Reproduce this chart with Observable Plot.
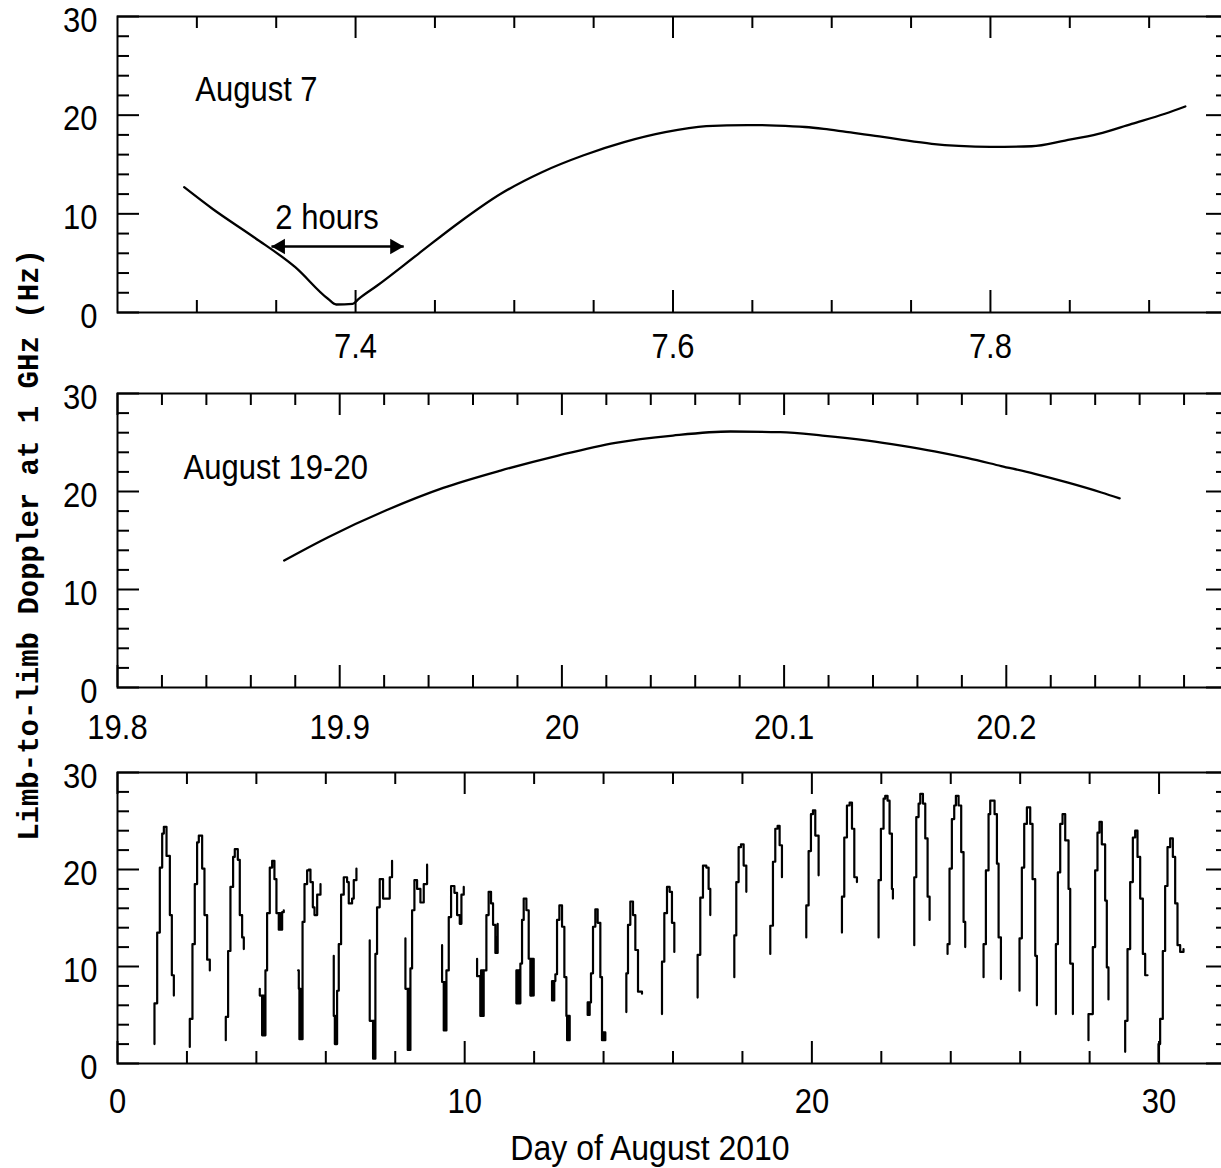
<!DOCTYPE html>
<html>
<head>
<meta charset="utf-8">
<script src="https://cdn.jsdelivr.net/npm/d3@7"></script>
<script src="https://cdn.jsdelivr.net/npm/@observablehq/plot@0.6"></script>
<style>
html,body{margin:0;padding:0;background:#fff;}
#wrap{position:relative;width:1221px;height:1168px;overflow:hidden;background:#fff;}
.panel{position:absolute;left:0;width:1240px;}
#ylab{position:absolute;left:30px;top:545px;transform:translate(-50%,-50%) rotate(-90deg);font-family:"Liberation Mono",monospace;font-weight:bold;font-size:29px;white-space:nowrap;color:#000;}
#xlab{position:absolute;left:650px;top:1148px;transform:translate(-50%,-50%) scale(1,1.12);font-family:"Liberation Sans",Arial,sans-serif;font-size:32px;white-space:nowrap;color:#000;}
</style>
</head>
<body>
<div id="wrap">
  <div id="p1" class="panel" style="top:0px"></div>
  <div id="p2" class="panel" style="top:377px"></div>
  <div id="p3" class="panel" style="top:756px"></div>
  <div id="ylab">Limb-to-limb Doppler at 1 GHz (Hz)</div>
  <div id="xlab">Day of August 2010</div>
</div>
<script>
// ---------- Panel 1: August 7 ----------
const aug7Day = [7.292,7.310,7.336,7.362,7.3826,7.3878,7.3982,7.402,7.4137,7.4396,7.4655,7.4915,7.5174,7.5433,7.5692,7.5951,7.621,7.6469,7.665,7.6832,7.695,7.709,7.73,7.7425,7.763,7.78,7.80,7.826,7.847,7.868,7.889,7.910,7.9228];
const aug7Hz  = [12.70,10.49,7.63,4.59,1.39,0.81,0.88,1.39,2.74,5.95,9.15,12.03,14.22,15.91,17.26,18.27,18.88,19.0,18.95,18.8,18.6,18.3,17.85,17.55,17.1,16.88,16.78,16.85,17.43,18.1,19.12,20.14,20.88];
const p1Domain = [7.25, 7.95];
const p1MajorTicks = [7.4, 7.6, 7.8];
const p1MajorLabels = ["7.4", "7.6", "7.8"];
const p1MinorTicks = [7.3, 7.35, 7.45, 7.5, 7.55, 7.65, 7.7, 7.75, 7.85, 7.9];
const p1Title = "August 7";
const arrowLabel = "2 hours";
const arrowStartDay = 7.347;
const arrowHours = 2;
const arrowHz = 6.69;

// ---------- Panel 2: August 19-20 ----------
const aug19Day = [19.875,19.8948,19.9207,19.9466,19.9724,19.9983,20.0241,20.05,20.0759,20.0983,20.1172,20.1377,20.1527,20.1677,20.1827,20.1977,20.2128,20.2278,20.2428,20.251];
const aug19Hz  = [12.96,15.34,18.06,20.37,22.14,23.67,24.97,25.71,26.12,26.05,25.71,25.2,24.69,24.1,23.4,22.6,21.8,20.9,19.9,19.3];
const p2Domain = [19.8, 20.3];
const p2MajorTicks = [19.8, 19.9, 20.0, 20.1, 20.2];
const p2MajorLabels = ["19.8", "19.9", "20", "20.1", "20.2"];
const p2MinorTicks = [19.82,19.84,19.86,19.88,19.92,19.94,19.96,19.98,20.02,20.04,20.06,20.08,20.12,20.14,20.16,20.18,20.22,20.24,20.26,20.28];
const p2Title = "August 19-20";

// ---------- Panel 3: whole month (daily passes, [day, Hz] step points) ----------
const passes = [
  [[1.065,2.0],[1.065,6.2],[1.143,13.5],[1.219,20.2],[1.287,23.7],[1.335,24.4],[1.412,21.4],[1.508,15.3],[1.565,9.1],[1.623,7.0]],
  [[2.082,1.7],[2.082,4.6],[2.159,12.3],[2.226,18.5],[2.293,22.8],[2.342,23.5],[2.438,20.1],[2.505,15.3],[2.582,10.7],[2.659,9.6]],
  [[3.119,2.4],[3.119,4.8],[3.186,11.6],[3.253,18.2],[3.33,21.3],[3.378,22.1],[3.465,21.0],[3.522,15.3],[3.59,13.0],[3.638,11.8]],
  [[4.098,7.7],[4.098,7.0],[4.165,2.9],[4.185,7.0],[4.205,2.9],[4.225,7.0],[4.242,2.9],[4.261,9.6],[4.309,15.5],[4.386,20.2],[4.454,20.9],[4.52,19.0],[4.578,15.5],[4.645,13.8],[4.67,15.5],[4.69,13.8],[4.742,15.6],[4.789,15.8]],
  [[5.203,9.6],[5.222,7.7],[5.24,2.5],[5.26,7.7],[5.28,2.5],[5.3,7.7],[5.318,2.5],[5.33,14.6],[5.386,18.5],[5.462,19.9],[5.51,20.0],[5.558,18.7],[5.626,16.1],[5.674,15.3],[5.751,17.4],[5.847,18.5]],
  [[6.229,11.1],[6.229,4.9],[6.26,2.0],[6.28,4.9],[6.3,2.0],[6.325,7.5],[6.373,12.3],[6.44,17.4],[6.517,19.2],[6.613,18.7],[6.661,16.5],[6.757,17.0],[6.805,18.9],[6.882,20.1]],
  [[7.265,12.7],[7.265,4.4],[7.361,0.5],[7.38,4.4],[7.4,0.5],[7.428,11.3],[7.476,16.1],[7.553,19.0],[7.649,17.0],[7.841,19.2],[7.908,20.9]],
  [[8.293,12.9],[8.293,7.7],[8.36,1.4],[8.38,7.7],[8.4,1.4],[8.437,9.8],[8.485,15.8],[8.552,18.9],[8.629,18.0],[8.725,16.6],[8.821,18.5],[8.917,20.5]],
  [[9.349,12.2],[9.349,8.4],[9.397,3.4],[9.415,8.4],[9.435,3.4],[9.474,9.6],[9.541,15.1],[9.608,18.3],[9.704,17.6],[9.781,15.3],[9.858,14.4],[9.906,17.4],[9.973,18.2]],
  [[10.357,10.8],[10.357,9.0],[10.45,4.9],[10.47,9.6],[10.49,4.9],[10.51,9.6],[10.53,4.9],[10.547,9.6],[10.625,15.3],[10.69,17.7],[10.759,16.5],[10.817,14.3],[10.884,11.4],[10.91,13.0],[10.93,11.4],[10.95,14.4]],
  [[11.489,9.6],[11.489,6.2],[11.51,9.6],[11.53,6.2],[11.55,9.6],[11.57,6.2],[11.604,10.3],[11.652,14.8],[11.70,17.0],[11.777,15.8],[11.844,10.8],[11.892,7.0],[11.91,10.8],[11.93,7.0],[11.95,10.8],[11.988,7.0]],
  [[12.516,8.5],[12.516,6.5],[12.54,8.5],[12.56,6.5],[12.58,8.5],[12.612,9.2],[12.66,14.8],[12.727,16.3],[12.804,14.1],[12.871,8.9],[12.929,4.9],[12.95,2.4],[12.97,4.9],[12.99,2.4],[13.01,4.9],[13.025,2.4]],
  [[13.542,6.3],[13.542,5.0],[13.56,6.3],[13.58,5.0],[13.6,6.3],[13.638,9.3],[13.696,14.1],[13.763,15.9],[13.83,14.5],[13.907,8.9],[13.955,2.4],[13.98,3.2],[14.0,2.4],[14.02,3.2],[14.051,2.4]],
  [[14.656,5.3],[14.656,9.3],[14.704,14.3],[14.771,16.7],[14.848,15.3],[14.915,11.7],[14.992,7.4],[15.107,7.2]],
  [[15.683,5.1],[15.683,10.5],[15.75,15.5],[15.827,18.2],[15.903,17.7],[15.97,14.5],[16.038,11.5]],
  [[16.709,6.8],[16.709,11.2],[16.786,17.1],[16.863,20.4],[16.959,20.2],[17.026,18.0],[17.074,15.3]],
  [[17.766,8.9],[17.766,13.2],[17.823,18.7],[17.89,22.3],[17.958,22.6],[18.035,20.4],[18.112,17.7]],
  [[18.802,11.3],[18.802,14.2],[18.879,20.8],[18.946,24.2],[19.013,24.5],[19.071,22.5],[19.138,19.2]],
  [[19.839,13.0],[19.839,16.3],[19.906,21.9],[19.973,25.7],[20.031,26.1],[20.098,23.5],[20.194,19.4]],
  [[20.866,13.5],[20.866,17.2],[20.933,23.3],[21.01,26.6],[21.087,26.9],[21.155,24.2],[21.222,19.2],[21.298,18.7]],
  [[21.921,13.0],[21.921,18.9],[21.988,24.2],[22.065,27.3],[22.113,27.6],[22.18,27.1],[22.238,23.7],[22.305,18.0],[22.334,17.0]],
  [[22.949,12.2],[22.949,19.2],[23.007,25.4],[23.074,26.8],[23.122,27.8],[23.199,26.8],[23.266,23.2],[23.333,17.2],[23.391,14.8]],
  [[23.908,11.3],[23.908,12.3],[23.965,20.1],[24.032,25.2],[24.1,26.6],[24.148,27.6],[24.225,26.6],[24.301,21.8],[24.369,14.6],[24.417,12.0]],
  [[24.945,8.9],[24.945,12.3],[25.012,19.9],[25.089,25.7],[25.137,27.1],[25.262,25.7],[25.33,20.6],[25.378,13.0],[25.445,8.7]],
  [[25.981,7.5],[25.981,12.9],[26.048,20.2],[26.116,24.7],[26.193,26.4],[26.289,24.7],[26.356,19.0],[26.433,11.1],[26.481,6.0]],
  [[27.028,5.1],[27.028,12.3],[27.085,19.7],[27.153,24.7],[27.22,25.7],[27.297,23.0],[27.393,18.0],[27.441,10.3],[27.518,5.1]],
  [[27.967,2.4],[27.967,5.1],[28.092,12.0],[28.159,19.9],[28.226,23.8],[28.284,24.9],[28.351,22.6],[28.447,16.8],[28.495,9.9],[28.543,6.6]],
  [[29.024,1.2],[29.024,4.4],[29.091,11.8],[29.168,18.7],[29.245,23.3],[29.312,24.0],[29.379,21.3],[29.456,17.0],[29.533,11.3],[29.6,9.1],[29.668,9.1]],
  [[29.983,0.2],[29.983,2.0],[30.031,4.6],[30.108,11.6],[30.175,18.3],[30.243,22.3],[30.32,23.2],[30.397,21.3],[30.464,16.5],[30.531,12.2],[30.608,11.5],[30.704,11.8]]
];
const p3Domain = [0, 32];
const p3MajorTicks = [0, 10, 20, 30];
const p3MajorLabels = ["0", "10", "20", "30"];
const p3MinorTicks = [2,4,6,8,12,14,16,18,22,24,26,28];

// ---------- shared y axis ----------
const yDomain = [0, 30];
const yMajorTicks = [0, 10, 20, 30];
const yMajorLabels = ["0", "10", "20", "30"];
const yMinorTicks = [2,4,6,8,12,14,16,18,22,24,26,28];

// ---------- drawing ----------
const W = 1240, ML = 117, MR = 12, MT = 16;
const FONT = '"Liberation Sans", Arial, Helvetica, sans-serif';
const MAJ = 22, MIN = 12;
const STRETCH = 1.12;

function stretchText(svg) {
  svg.querySelectorAll("text").forEach(t => {
    const tr = t.getAttribute("transform");
    if (tr) {
      t.setAttribute("transform", tr + ` scale(1,${STRETCH})`);
    } else {
      const x = +t.getAttribute("x") || 0, y = +t.getAttribute("y") || 0;
      t.setAttribute("transform", `translate(${x},${y}) scale(1,${STRETCH}) translate(${-x},${-y})`);
    }
  });
  return svg;
}

function panel({xDomain, xMajor, xLabels, xMinor, height, marginBottom, tickPadding, marks}) {
  const ph = height - MT - marginBottom;
  const pw = W - ML - MR;
  const xFmt = new Map(xMajor.map((d, i) => [d, xLabels[i]]));
  const yFmt = new Map(yMajorTicks.map((d, i) => [d, yMajorLabels[i]]));
  const xt = (vals, len) => [
    Plot.ruleX(vals, {x: d => d, insetTop: ph - len, stroke: "#000", strokeWidth: 2}),
    Plot.ruleX(vals, {x: d => d, insetBottom: ph - len, stroke: "#000", strokeWidth: 2})
  ];
  const yt = (vals, len) => [
    Plot.ruleY(vals, {y: d => d, insetRight: pw - len, stroke: "#000", strokeWidth: 2}),
    Plot.ruleY(vals, {y: d => d, insetLeft: pw - len, stroke: "#000", strokeWidth: 2})
  ];
  return stretchText(Plot.plot({
    width: W, height, marginLeft: ML, marginRight: MR, marginTop: MT, marginBottom,
    x: {domain: xDomain},
    y: {domain: yDomain},
    style: {fontFamily: FONT, fontSize: "31px", background: "transparent", overflow: "visible", maxWidth: "none", color: "#000"},
    marks: [
      ...xt(xMajor, MAJ), ...xt(xMinor, MIN),
      ...yt(yMajorTicks, MAJ), ...yt(yMinorTicks, MIN),
      Plot.frame({stroke: "#000", strokeWidth: 2}),
      Plot.axisX({ticks: xMajor, tickFormat: d => xFmt.get(d), tickSize: 0, tickPadding, fontSize: 31, label: null, fill: "#000"}),
      Plot.axisY({ticks: yMajorTicks, tickFormat: d => yFmt.get(d), tickSize: 0, tickPadding: 20, fontSize: 31, label: null, dy: 4, fill: "#000"}),
      ...marks
    ]
  }));
}

// Panel 1
const p1Data = aug7Day.map((d, i) => ({x: d, y: aug7Hz[i]}));
const arrow = {x1: arrowStartDay, x2: arrowStartDay + arrowHours / 24, y: arrowHz};
const headR = 5.8, headOff = 9;
document.getElementById("p1").append(panel({
  xDomain: p1Domain, xMajor: p1MajorTicks, xLabels: p1MajorLabels, xMinor: p1MinorTicks,
  height: 362, marginBottom: 50, tickPadding: 21,
  marks: [
    Plot.line(p1Data, {x: "x", y: "y", curve: "monotone-x", stroke: "#000", strokeWidth: 2.3}),
    Plot.text([p1Title], {x: 7.299, y: 22.6, text: d => d, textAnchor: "start", fontSize: 31, fill: "#000"}),
    Plot.text([arrowLabel], {x: 7.382, y: 9.6, text: d => d, textAnchor: "middle", fontSize: 31, fill: "#000"}),
    Plot.link([arrow], {x1: "x1", x2: "x2", y1: "y", y2: "y", stroke: "#000", strokeWidth: 2.3}),
    Plot.dot([arrow], {x: "x1", y: "y", symbol: "triangle", r: headR, rotate: -90, dx: headOff, fill: "#000", stroke: "none"}),
    Plot.dot([arrow], {x: "x2", y: "y", symbol: "triangle", r: headR, rotate: 90, dx: -headOff, fill: "#000", stroke: "none"})
  ]
}));

// Panel 2
const p2Data = aug19Day.map((d, i) => ({x: d, y: aug19Hz[i]}));
document.getElementById("p2").append(panel({
  xDomain: p2Domain, xMajor: p2MajorTicks, xLabels: p2MajorLabels, xMinor: p2MinorTicks,
  height: 360, marginBottom: 50, tickPadding: 27,
  marks: [
    Plot.line(p2Data, {x: "x", y: "y", curve: "monotone-x", stroke: "#000", strokeWidth: 2.3}),
    Plot.text([p2Title], {x: 19.8297, y: 22.45, text: d => d, textAnchor: "start", fontSize: 31, fill: "#000"})
  ]
}));

// Panel 3
const p3Data = passes.flatMap((pass, k) => pass.map(([x, y]) => ({pass: k, x, y})));
document.getElementById("p3").append(panel({
  xDomain: p3Domain, xMajor: p3MajorTicks, xLabels: p3MajorLabels, xMinor: p3MinorTicks,
  height: 347, marginBottom: 40, tickPadding: 25,
  marks: [
    Plot.line(p3Data, {x: "x", y: "y", z: "pass", curve: "step-after", stroke: "#000", strokeWidth: 2.2})
  ]
}));
</script>
</body>
</html>
